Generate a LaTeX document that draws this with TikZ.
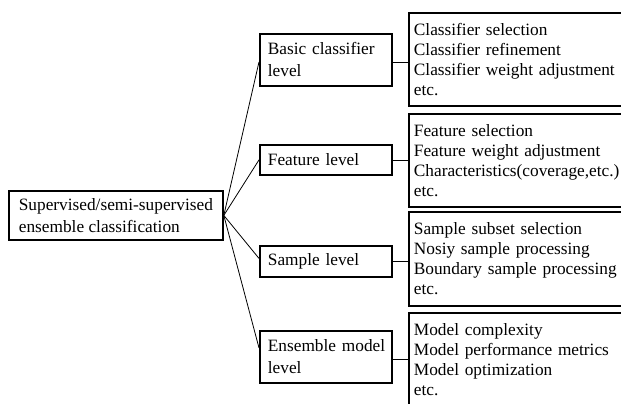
\documentclass[tikz,border=0pt]{standalone}
\usepackage{fontspec}
\setmainfont{Liberation Serif}
\begin{document}
\begin{tikzpicture}[x=1pt, y=-1pt,
  frame/.style={draw, line width=1.8pt, rectangle, anchor=north west, inner ysep=0pt},
  rootbox/.style={frame, align=left, inner xsep=9pt, minimum width=214pt, minimum height=49pt,
    font=\fontsize{17.3pt}{22pt}\selectfont},
  lvlbox/.style={frame, align=left, text width=116pt, inner xsep=8pt, minimum width=132pt,
    font=\fontsize{17.3pt}{22pt}\selectfont},
  listbox/.style={frame, align=left, text width=220pt, inner xsep=5pt, minimum width=230pt,
    minimum height=93pt, font=\fontsize{17.3pt}{20pt}\selectfont},
  link/.style={draw, line width=0.8pt}
]
\useasboundingbox (0,0) rectangle (621,404);

% root of the tree
\node[rootbox] (root) at (8,190) {Supervised/semi-supervised\\ensemble classification};

% second level
\node[lvlbox, minimum height=52pt] (basic) at (259,33) {Basic classifier\\level};
\node[lvlbox, minimum height=30pt] (feat) at (259,144) {Feature level};
\node[lvlbox, minimum height=31pt] (samp) at (259,245) {Sample level};
\node[lvlbox, minimum height=52pt] (ens) at (259,330) {\mbox{Ensemble model}\\level};

% detail lists
\node[listbox] (lb) at (408,12) {Classifier selection\\Classifier refinement\\Classifier weight adjustment\\etc.};
\node[listbox] (lf) at (408,113) {Feature selection\\Feature weight adjustment\\Characteristics(coverage,etc.)\\etc.};
\node[listbox, minimum height=94pt] (ls) at (408,211) {Sample subset selection\\Nosiy sample processing\\Boundary sample processing\\etc.};
\node[listbox] (le) at (408,312) {Model complexity\\Model performance metrics\\Model optimization\\etc.};

% fan-out from the root
\draw[link] (root.east) -- ([yshift=-2pt]basic.west);
\draw[link] (root.east) -- (feat.west);
\draw[link] (root.east) -- ([yshift=3pt]samp.west);
\draw[link] (root.east) -- ([yshift=9pt]ens.west);

% levels to their lists
\draw[link] ([yshift=-3pt]basic.east) -- ([yshift=-3pt]basic.east -| lb.west);
\draw[link] (feat.east) -- (feat.east -| lf.west);
\draw[link] (samp.east) -- (samp.east -| ls.west);
\draw[link] ([yshift=-2pt]ens.east) -- ([yshift=-2pt]ens.east -| le.west);
\end{tikzpicture}
\end{document}
